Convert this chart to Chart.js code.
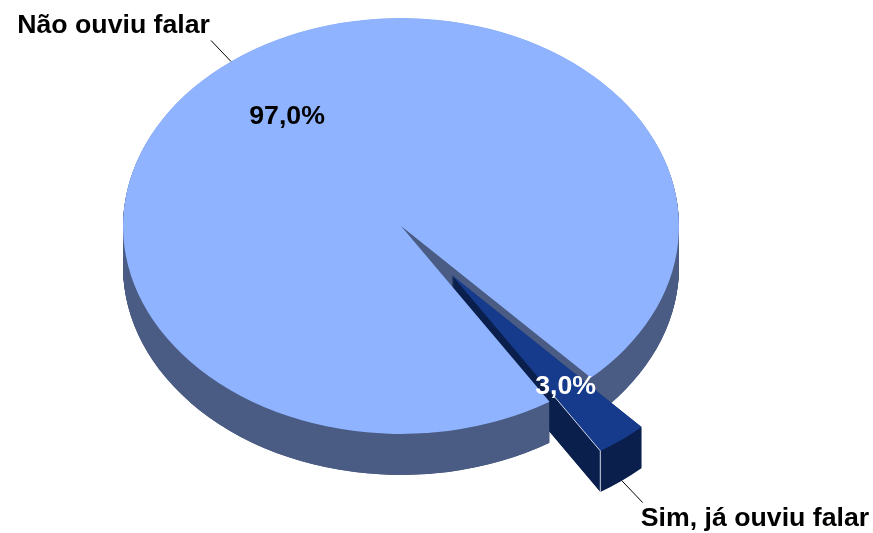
<!DOCTYPE html>
<html>

<head>
    <meta charset="utf-8">
    <title>Já ouviu falar</title>
    <script src="https://cdn.jsdelivr.net/npm/chart.js@4.4.2/dist/chart.umd.min.js"></script>
    <style>
        html, body {
            height: 100%;
            margin: 0;
            background: #fff;
        }
        #chart-container {
            width: 873px;
            height: 533px;
        }
    </style>
</head>

<body>
    <div id="chart-container">
        <canvas id="pieChart"></canvas>
    </div>
    <script>
        const labels = ['Não ouviu falar', 'Sim, já ouviu falar'];
        const values = [97.0, 3.0];

        const topColors = ['#8fb3ff', '#163a8c'];
        const sideColors = ['#4a5c83', '#0a1f4b'];
        const labelColors = ['#000000', '#ffffff'];

        const FONT = 'bold 26.7px "Liberation Sans", Arial, sans-serif';
        const TILT = 0.748;      // ellipse height / width
        const DEPTH = 41;        // height of the pie wall
        const EXPLODE = 83;      // how far the small slice is pulled out
        const LABEL_POS = 0.67;  // percent label, fraction of the radius

        // mid angle of the slice and its explode offset, before the tilt
        function sliceGeometry(arc, i) {
            const mid = (arc.startAngle + arc.endAngle) / 2;
            const pull = i === 1 ? EXPLODE : 0;
            return { mid, ox: Math.cos(mid) * pull, oy: Math.sin(mid) * pull };
        }

        // screen position of a point given in untilted pie coordinates
        function toScreen(arc, px, py) {
            return { x: arc.x + px, y: arc.y + py * TILT };
        }

        function drawSlice(ctx, arc, i, color, drop) {
            const g = sliceGeometry(arc, i);
            const saved = arc.options;
            arc.options = Object.create(saved, { backgroundColor: { value: color } });
            ctx.save();
            ctx.translate(g.ox, arc.y + drop);
            ctx.scale(1, TILT);
            ctx.translate(0, -arc.y + g.oy);
            arc.draw(ctx);
            ctx.restore();
            arc.options = saved;
        }

        // stack the copies on a spare canvas and flood them with one colour,
        // otherwise the rounding of the many overlaps shows up as stripes
        function makeWall(chart, arc, i) {
            const spare = document.createElement('canvas');
            spare.width = chart.canvas.width;
            spare.height = chart.canvas.height;
            const sctx = spare.getContext('2d');
            for (let d = DEPTH; d > 0; d -= 0.5) {
                drawSlice(sctx, arc, i, sideColors[i], d);
            }
            sctx.globalCompositeOperation = 'source-in';
            sctx.fillStyle = sideColors[i];
            sctx.fillRect(0, 0, spare.width, spare.height);
            return spare;
        }

        function line(ctx, a, b, color, width) {
            ctx.strokeStyle = color;
            ctx.lineWidth = width;
            ctx.beginPath();
            ctx.moveTo(a.x, a.y);
            ctx.lineTo(b.x, b.y);
            ctx.stroke();
        }

        const pie3d = {
            id: 'pie3d',
            beforeDatasetsDraw(chart) {
                const ctx = chart.ctx;
                const arcs = chart.getDatasetMeta(0).data;
                const mainArc = arcs[0];
                const s = arcs[1];

                // painter's order: big wall, small slice, big top
                const mainWall = makeWall(chart, mainArc, 0);
                ctx.drawImage(mainWall, 0, 0);
                ctx.drawImage(makeWall(chart, s, 1), 0, 0);
                drawSlice(ctx, s, 1, topColors[1], 0);

                // the big wall stays in front of the small one, left of the notch corner
                const notch = toScreen(mainArc,
                    Math.cos(mainArc.startAngle) * mainArc.outerRadius,
                    Math.sin(mainArc.startAngle) * mainArc.outerRadius);
                ctx.save();
                ctx.beginPath();
                ctx.rect(0, notch.y, notch.x, chart.height - notch.y);
                ctx.clip();
                ctx.drawImage(mainWall, 0, 0);
                ctx.restore();

                drawSlice(ctx, mainArc, 0, topColors[0], 0);

                // thin light edge on the corner of the small slice
                const g = sliceGeometry(s, 1);
                const apex = toScreen(s, g.ox, g.oy);
                const corner = toScreen(s, g.ox + Math.cos(s.endAngle) * s.outerRadius,
                    g.oy + Math.sin(s.endAngle) * s.outerRadius);
                const edgeFrom = {
                    x: apex.x + (corner.x - apex.x) * 0.68,
                    y: apex.y + (corner.y - apex.y) * 0.68
                };
                line(ctx, edgeFrom, corner, '#d5dbe8', 1);
                line(ctx, corner, { x: corner.x, y: corner.y + DEPTH }, '#d5dbe8', 1);

                // leader lines and slice names
                const mainRim = toScreen(mainArc,
                    Math.cos((mainArc.startAngle + mainArc.endAngle) / 2) * mainArc.outerRadius,
                    Math.sin((mainArc.startAngle + mainArc.endAngle) / 2) * mainArc.outerRadius);
                const mainEnd = { x: mainRim.x - 20, y: mainRim.y - 21 };
                line(ctx, mainRim, mainEnd, '#000000', 1);

                const smallRim = toScreen(s, g.ox + Math.cos(g.mid) * s.outerRadius,
                    g.oy + Math.sin(g.mid) * s.outerRadius);
                smallRim.y += DEPTH;
                const smallEnd = { x: smallRim.x + 21, y: smallRim.y + 22 };
                line(ctx, smallRim, smallEnd, '#000000', 1);

                ctx.font = FONT;
                ctx.fillStyle = '#000000';
                ctx.textAlign = 'right';
                ctx.textBaseline = 'alphabetic';
                ctx.fillText(labels[0], mainEnd.x - 1, mainEnd.y - 7);
                ctx.textAlign = 'left';
                ctx.fillText(labels[1], smallEnd.x - 2, smallEnd.y + 23);

                // percent labels
                ctx.textAlign = 'center';
                ctx.textBaseline = 'middle';
                arcs.forEach((arc, i) => {
                    const p = sliceGeometry(arc, i);
                    const pos = toScreen(arc,
                        p.ox + Math.cos(p.mid) * arc.outerRadius * LABEL_POS,
                        p.oy + Math.sin(p.mid) * arc.outerRadius * LABEL_POS);
                    ctx.fillStyle = labelColors[i];
                    ctx.fillText(values[i].toFixed(1).replace('.', ',') + '%', pos.x, pos.y + 1);
                });

                return false;
            }
        };

        new Chart(document.getElementById('pieChart').getContext('2d'), {
            type: 'pie',
            data: {
                labels: labels,
                datasets: [{
                    data: values,
                    backgroundColor: topColors,
                    borderWidth: 0,
                    radius: 278
                }]
            },
            options: {
                responsive: true,
                maintainAspectRatio: false,
                animation: false,
                events: [],
                rotation: 147.7,
                layout: {
                    padding: { right: 71, bottom: 81 }
                },
                plugins: {
                    legend: { display: false },
                    tooltip: { enabled: false }
                }
            },
            plugins: [pie3d]
        });
    </script>
</body>

</html>
